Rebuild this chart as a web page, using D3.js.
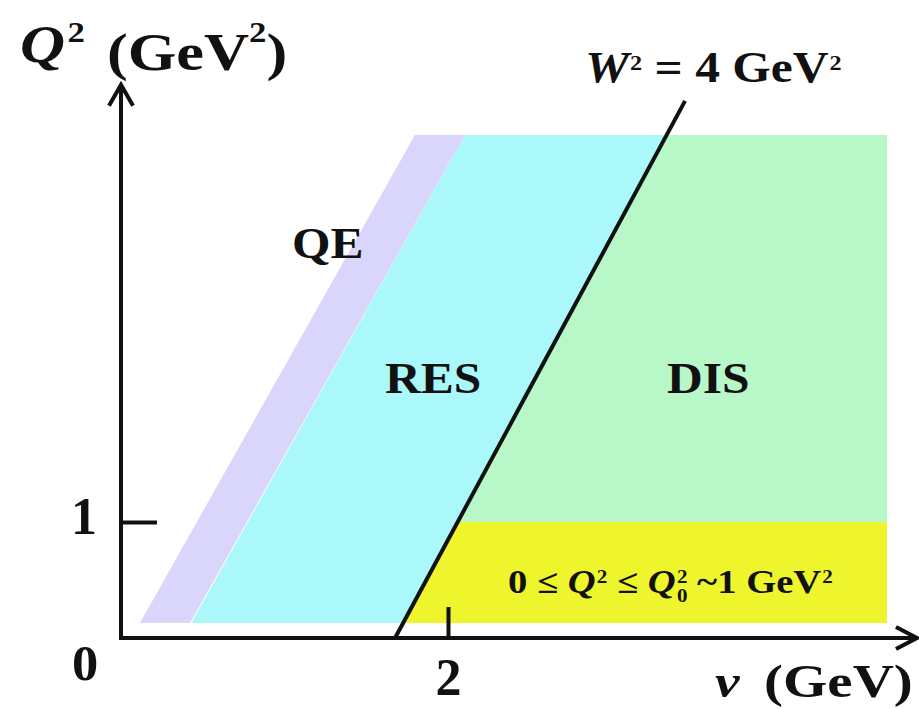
<!DOCTYPE html>
<html>
<head>
<meta charset="utf-8">
<script src="https://cdn.jsdelivr.net/npm/d3@7/dist/d3.min.js"></script>
<style>
  html, body { margin: 0; padding: 0; background: #ffffff; }
  svg { display: block; }
</style>
</head>
<body>
<script>
// ---------- data (ν in GeV, Q² in GeV²) ----------
const regionNames = ["QE", "RES", "DIS", "LowQ2"];
const regionColors = ["#dad5fa", "#aaf8f9", "#b7f7c8", "#eef52c"];
const qePolygon   = [[0.116, 0.13], [0.422, 0.13], [2.104, 4.336], [1.798, 4.336]];
const resPolygon  = [[0.43, 0.13], [1.726, 0.13], [3.337, 4.336], [2.104, 4.336]];
const disPolygon  = [[2.059, 1.0], [4.685, 1.0], [4.685, 4.336], [3.337, 4.336]];
const lowQ2Polygon = [[1.726, 0.13], [4.685, 0.13], [4.685, 1.0], [2.059, 1.0]];
const w2Line = [[1.676, 0.0], [3.45, 4.63]];
const xTickValues = [2];
const yTickValues = [1];
const axisEnds = { nuMax: 4.856, q2Max: 4.76 };

// ---------- scales ----------
const W = 919, H = 709;
const x = d3.scaleLinear().domain([0, 2]).range([121, 448]);
const y = d3.scaleLinear().domain([0, 1]).range([638, 522]);

const svg = d3.select("body").append("svg").attr("width", W).attr("height", H);
const FONT = "'Liberation Serif', 'Times New Roman', Times, serif";

// ---------- regions ----------
const polys = [qePolygon, resPolygon, disPolygon, lowQ2Polygon];
const line = d3.line().x(d => x(d[0])).y(d => y(d[1]));
svg.append("g").selectAll("path")
  .data(polys)
  .join("path")
  .attr("d", d => line(d) + "Z")
  .attr("fill", (d, i) => regionColors[i])
  .attr("stroke", "none");

// W² = 4 GeV² line
svg.append("path")
  .attr("d", line(w2Line))
  .attr("stroke", "#111")
  .attr("stroke-width", 4)
  .attr("fill", "none");

// ---------- axes ----------
const yAxis = d3.axisLeft(y).tickValues(yTickValues).tickSize(-36).tickPadding(24).tickFormat(d3.format("d"));
const gy = svg.append("g").attr("transform", `translate(${x(0)},0)`).call(yAxis);
gy.select(".domain").remove();
gy.selectAll(".tick line").attr("stroke", "#111").attr("stroke-width", 4);
gy.selectAll(".tick text").attr("font-family", FONT).attr("font-weight", "bold")
  .attr("font-size", 52).attr("fill", "#111").attr("dy", "0.22em");

const xAxis = d3.axisBottom(x).tickValues(xTickValues).tickSize(-31).tickPadding(24).tickFormat(d3.format("d"));
const gx = svg.append("g").attr("transform", `translate(0,${y(0)})`).call(xAxis);
gx.select(".domain").remove();
gx.selectAll(".tick line").attr("stroke", "#111").attr("stroke-width", 4);
gx.selectAll(".tick text").attr("font-family", FONT).attr("font-weight", "bold")
  .attr("font-size", 52).attr("fill", "#111").attr("dy", "0.64em");

// axis lines with arrows
const x0 = x(0), y0 = y(0), xEnd = x(axisEnds.nuMax), yEnd = y(axisEnds.q2Max);
svg.append("path")
  .attr("d", `M${x0},${yEnd} V${y0} H${xEnd}`)
  .attr("stroke", "#111").attr("stroke-width", 4).attr("fill", "none")
  .attr("stroke-linejoin", "miter");
svg.append("path")
  .attr("d", `M${x0 - 12},${yEnd + 20} L${x0},${yEnd - 1} L${x0 + 12},${yEnd + 20}`)
  .attr("stroke", "#111").attr("stroke-width", 4).attr("fill", "none");
svg.append("path")
  .attr("d", `M${xEnd - 19},${y0 - 11} L${xEnd + 2},${y0} L${xEnd - 19},${y0 + 11}`)
  .attr("stroke", "#111").attr("stroke-width", 4).attr("fill", "none");

// ---------- text helper ----------
function label(px, py, sx, size, parts) {
  const g = svg.append("g").attr("transform", `translate(${px},${py}) scale(${sx},1)`);
  const t = g.append("text")
    .attr("font-family", FONT).attr("font-weight", "bold")
    .attr("font-size", size).attr("fill", "#111");
  parts.forEach(p => {
    const s = t.append("tspan").text(p.t);
    if (p.i) s.attr("font-style", "italic");
    if (p.s) s.attr("font-size", p.s);
    if (p.dy) s.attr("dy", p.dy);
    if (p.dx) s.attr("dx", p.dx);
  });
  return t;
}

// axis titles
label(20, 62, 1.2, 52, [{t: "Q", i: true}, {t: "2", s: 29, dy: -20, dx: 2}]);
label(107, 70, 1.2, 52, [{t: "(GeV"}, {t: "2", s: 29, dy: -28}, {t: ")", dy: 28}]);
label(715, 697, 1.2, 46, [{t: "\u03BD", i: true}]);
label(764, 697, 1.24, 46, [{t: "(GeV)"}]);

// origin label
label(72, 680, 1.05, 50, [{t: "0"}]);

// W² label
label(585, 82, 1.1, 45, [
  {t: "W", i: true}, {t: "2", s: 22, dy: -12, dx: 1},
  {t: " = 4 GeV", dy: 12}, {t: "2", s: 22, dy: -12, dx: 1}
]);

// region labels
label(292, 258, 1.1, 45, [{t: "QE"}]);
label(385, 393, 1.1, 45, [{t: "RES"}]);
label(667, 393, 1.1, 45, [{t: "DIS"}]);

// low-Q² label
label(508, 593, 1.17, 33, [
  {t: "0 \u2264 "}, {t: "Q", i: true}, {t: "2", s: 18, dy: -10, dx: 1},
  {t: " \u2264 ", dy: 10}, {t: "Q", i: true},
  {t: "0", s: 18, dy: 9, dx: 1}, {t: "2", s: 18, dy: -19, dx: -9},
  {t: " ~1 GeV", dy: 10}, {t: "2", s: 18, dy: -10, dx: 1}
]);
</script>
</body>
</html>
